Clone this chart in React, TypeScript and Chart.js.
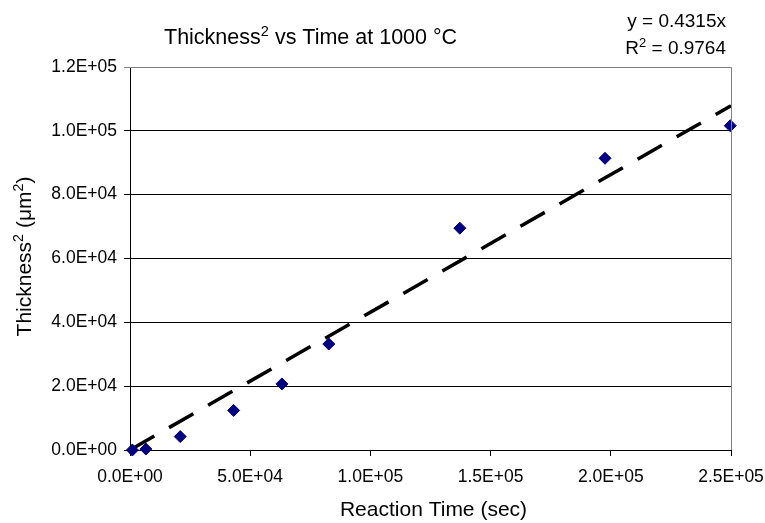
import React, { useEffect, useRef } from "react";
import { Chart, registerables } from "chart.js";

Chart.register(...registerables);

// Data
const timeSec = [1000, 6600, 20900, 43100, 63200, 82700, 137200, 197600, 249700];
const thicknessSq = [0, 300, 4200, 12400, 20700, 33200, 69500, 91400, 101600];
const trendSlope = 0.4315;
const trendX = [0, 250000];
const xTicks = [0, 50000, 100000, 150000, 200000, 250000];
const yTicks = [0, 20000, 40000, 60000, 80000, 100000, 120000];

type Seg = { t: string; sup?: boolean };
const titleSegs: Seg[] = [{ t: "Thickness" }, { t: "2", sup: true }, { t: " vs Time at 1000 \u00B0C" }];
const eqSegs: Seg[] = [{ t: "y = 0.4315x" }];
const r2Segs: Seg[] = [{ t: "R" }, { t: "2", sup: true }, { t: " = 0.9764" }];
const xTitleSegs: Seg[] = [{ t: "Reaction Time (sec)" }];
const yTitleSegs: Seg[] = [{ t: "Thickness" }, { t: "2", sup: true }, { t: " (\u03BCm" }, { t: "2", sup: true }, { t: ")" }];

const FONT = "'Liberation Sans', Arial, sans-serif";

function fmtExp(v: number): string {
  if (v === 0) return "0.0E+00";
  const e = Math.floor(Math.log10(Math.abs(v)) + 1e-9);
  const m = v / Math.pow(10, e);
  const es = (e < 0 ? "-" : "+") + String(Math.abs(e)).padStart(2, "0");
  return m.toFixed(1) + "E" + es;
}

function drawRich(ctx: CanvasRenderingContext2D, segs: Seg[], x: number, y: number, size: number, align: "left" | "right" | "center") {
  const supSize = size * 0.68;
  const widths = segs.map((s) => {
    ctx.font = `${s.sup ? supSize : size}px ${FONT}`;
    return ctx.measureText(s.t).width;
  });
  const total = widths.reduce((a, b) => a + b, 0);
  let cx = align === "left" ? x : align === "right" ? x - total : x - total / 2;
  ctx.textAlign = "left";
  ctx.textBaseline = "alphabetic";
  segs.forEach((s, i) => {
    ctx.font = `${s.sup ? supSize : size}px ${FONT}`;
    ctx.fillText(s.t, cx, s.sup ? y - size * 0.36 : y);
    cx += widths[i];
  });
}

const textPlugin = {
  id: "textPlugin",
  afterDraw(chart: any) {
    const ctx = chart.ctx as CanvasRenderingContext2D;
    const ca = chart.chartArea;
    ctx.save();
    // gray top/right border
    ctx.strokeStyle = "#808080";
    ctx.lineWidth = 1;
    ctx.beginPath();
    ctx.moveTo(ca.left, Math.round(ca.top) + 0.5);
    ctx.lineTo(Math.round(ca.right) + 0.5, Math.round(ca.top) + 0.5);
    ctx.lineTo(Math.round(ca.right) + 0.5, ca.bottom);
    ctx.stroke();

    ctx.fillStyle = "#000";
    drawRich(ctx, titleSegs, 164, 44, 21.5, "left");
    drawRich(ctx, eqSegs, 726, 27, 19, "right");
    drawRich(ctx, r2Segs, 726, 54, 19, "right");
    drawRich(ctx, xTitleSegs, (ca.left + ca.right) / 2 + 3, 516, 21, "center");

    ctx.translate(31, (ca.top + ca.bottom) / 2 - 2);
    ctx.rotate(-Math.PI / 2);
    drawRich(ctx, yTitleSegs, 0, 0, 21, "center");
    ctx.restore();
  },
};

export default function App() {
  const ref = useRef<HTMLCanvasElement | null>(null);
  useEffect(() => {
    document.body.style.margin = "0";
    const canvas = ref.current;
    if (!canvas) return;
    const points = timeSec.map((t, i) => ({ x: t, y: thicknessSq[i] }));
    const trend = trendX.map((x) => ({ x, y: trendSlope * x }));
    const chart = new Chart(canvas, {
      type: "scatter",
      data: {
        datasets: [
          {
            type: "scatter",
            label: "data",
            data: points,
            pointStyle: "rectRot",
            pointRadius: 6,
            pointBackgroundColor: "#000080",
            pointBorderColor: "#000080",
            pointBorderWidth: 1,
            order: 0,
            clip: false,
          } as any,
          {
            type: "line",
            label: "trend",
            data: trend,
            borderColor: "#000",
            borderWidth: 3.5,
            borderDash: [28, 17],
            pointRadius: 0,
            fill: false,
            order: 1,
          } as any,
        ],
      },
      options: {
        responsive: false,
        animation: false,
        layout: { padding: { top: 67, right: 34, left: 0, bottom: 0 } },
        plugins: { legend: { display: false }, tooltip: { enabled: false }, title: { display: false } },
        scales: {
          x: {
            type: "linear",
            min: 0,
            max: 250000,
            afterBuildTicks: (s: any) => {
              s.ticks = xTicks.map((v) => ({ value: v }));
            },
            afterFit: (s: any) => {
              s.height = 73;
              s.paddingLeft = 0;
              s.paddingRight = 0;
            },
            ticks: {
              callback: (v: any) => fmtExp(Number(v)),
              color: "#000",
              font: { family: FONT, size: 17.5 },
              padding: 11,
              maxRotation: 0,
              autoSkip: false,
            },
            grid: { drawOnChartArea: false, drawTicks: true, tickLength: 6, color: "#000" },
            border: { color: "#000", width: 1 },
          },
          y: {
            type: "linear",
            min: 0,
            max: 120000,
            afterBuildTicks: (s: any) => {
              s.ticks = yTicks.map((v) => ({ value: v }));
            },
            afterFit: (s: any) => {
              s.width = 130;
              s.paddingTop = 0;
              s.paddingBottom = 0;
            },
            ticks: {
              callback: (v: any) => fmtExp(Number(v)),
              color: "#000",
              font: { family: FONT, size: 17.5 },
              padding: 7,
              autoSkip: false,
            },
            grid: {
              color: (c: any) => (c.tick && c.tick.value === 120000 ? "#808080" : "#000"),
              tickLength: 6,
              drawTicks: true,
            },
            border: { color: "#000", width: 1 },
          },
        },
      },
      plugins: [textPlugin],
    });
    return () => chart.destroy();
  }, []);
  return (
    <div style={{ position: "absolute", left: 0, top: 0, width: 765, height: 523, background: "#fff" }}>
      <canvas ref={ref} width={765} height={523} style={{ display: "block" }} />
    </div>
  );
}
